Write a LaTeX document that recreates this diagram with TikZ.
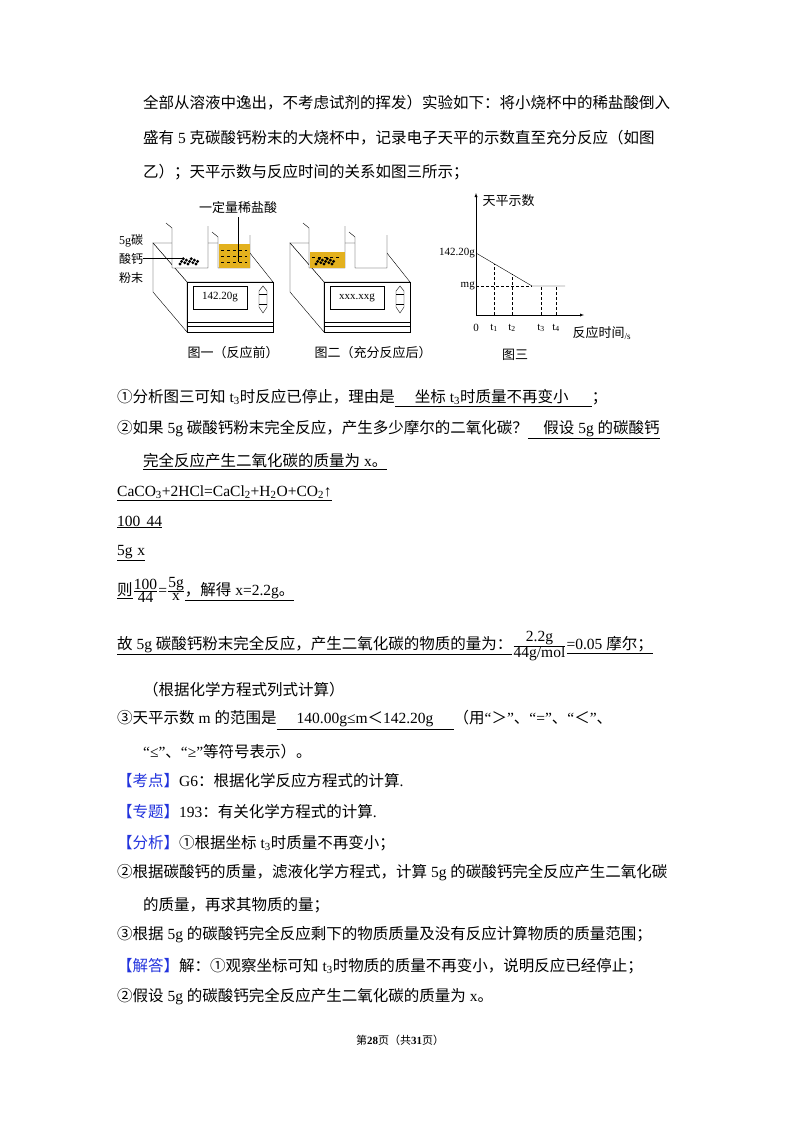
\documentclass[tikz,border=0pt]{standalone}
\usepackage{fontspec}
\setmainfont{Liberation Serif}
\newfontfamily\cjk{Noto Sans CJK SC}
\newfontfamily\latf{Liberation Serif}
\usetikzlibrary{positioning}
% switch fonts between Chinese and Latin characters
\newXeTeXintercharclass\cjkcls
\newcount\cc
\newcommand\cjkrange[2]{\cc=#1 \loop\XeTeXcharclass\cc=\cjkcls\advance\cc1 \ifnum\cc<#2 \repeat}
\cjkrange{"4E00}{"A000}
\cjkrange{"3000}{"3040}
\cjkrange{"FF00}{"FFF0}
\cjkrange{"2460}{"2474}
\XeTeXinterchartoks 0 \cjkcls={\cjk}
\XeTeXinterchartoks 4095 \cjkcls={\cjk}
\XeTeXinterchartoks \cjkcls 0={\latf}
\XeTeXinterchartoks \cjkcls 4095={\latf}
\XeTeXinterchartokenstate=1
\definecolor{acid}{HTML}{E3B11E}
\definecolor{tag}{HTML}{2233DD}
\newcommand\tg[1]{\textcolor{tag}{【#1】}}
\newcommand\sub[1]{\textsubscript{#1}}
% balance with display, shifted by #1
\newcommand\balance[2]{
  \begin{scope}[xshift=#1]
    \draw[fill=white] (153,243) -- (242,243) -- (273,282) -- (187,282) -- cycle;
    \draw[fill=white] (153,243) -- (187,282) -- (187,332) -- (153,292) -- cycle;
    \draw[fill=white] (187,282) rectangle (273,322);
    \draw[fill=white] (187,322) rectangle (273,332);
    \draw (187,326) -- (273,326);
    \draw (193,286) rectangle (247,309);
    \node[font=\fontsize{11}{12}\selectfont] (disp#1) at (220,297.5) {#2};
    \draw (259,291) -- (263,286) -- (267,291) -- (267,307) -- (263,313) -- (259,307) -- cycle;
    \draw (259,294) -- (267,294) (259,304) -- (267,304);
  \end{scope}}
\newcommand\beaker[4]{% x1,x2,top,bottom
  \fill[white] (#1,#3) rectangle (#2,#4);
  \draw (#1-6,#3-3) -- (#1,#3+2) -- (#1,#4) -- (#2,#4) -- (#2,#3);}
\newcommand\powder[2]{% left x, count
  \foreach \i in {0,...,#2}
    \fill ({#1+1.6*\i},{264-1.3*mod(\i*7,5)}) circle (1.6);}
\begin{document}
\begin{tikzpicture}[x=1pt,y=-1pt,
    line/.style={anchor=west,inner sep=0pt,font=\fontsize{15.5}{18}\selectfont},
    figcap/.style={font=\cjk\fontsize{13}{15}\selectfont},
    tick/.style={font=\fontsize{11}{12}\selectfont},
    guide/.style={densely dashed,thin}]
\useasboundingbox[fill=white] (0,0) rectangle (800,1132);

% text above the figure
\node[line] (l1) at (143,103) {全部从溶液中逸出，不考虑试剂的挥发）实验如下：将小烧杯中的稀盐酸倒入};
\node[line] (l2) at (143,138) {盛有 5 克碳酸钙粉末的大烧杯中，记录电子天平的示数直至充分反应（如图};
\node[line] (l3) at (143,172) {乙）；天平示数与反应时间的关系如图三所示；};

% figure one and two
\balance{0}{142.20g}
\balance{137}{xxx.xxg}
\beaker{172}{208}{226}{268}
\powder{180}{11}
\beaker{218}{250}{235}{268}
\fill[acid] (218.5,244) rectangle (249.5,267.5);
\foreach \yy in {250,256,262}
  \draw[dashed,thin] (221,\yy) -- (247,\yy);
\beaker{309}{345}{226}{268}
\fill[acid] (309.5,252) rectangle (344.5,267.5);
\draw[dashed,thin] (312,257) -- (342,257);
\powder{316}{11}
\beaker{355}{387}{235}{268}
\node[figcap,anchor=south] (acidlbl) at (238,217) {一定量稀盐酸};
\draw (acidlbl.south) -- (238,262);
\node[figcap,align=center,inner sep=0pt,font=\fontsize{12}{19}\selectfont] (powder) at (131,259) {5g碳\\酸钙\\粉末};
\draw (143,258) -- (183,258);
\node[figcap] (cap1) at (233,353) {图一（反应前）};
\node[figcap] (cap2) at (373,353) {图二（充分反应后）};

% figure three
\coordinate (o) at (476,315);
\draw[-latex] (o) -- (476,193) node[figcap,anchor=west,xshift=3pt,yshift=-8pt] (yl) {天平示数};
\draw[-latex] (o) -- (584,315);
\draw (476,253) -- (532,286) -- (565,286);
\draw[guide] (476,286) -- (532,286);
\draw[guide] (494,315) -- (494,263.6);
\draw[guide] (512,315) -- (512,274.2);
\draw[guide] (541,315) -- (541,286);
\draw[guide] (556,315) -- (556,286);
\node[tick,anchor=east,inner sep=1pt] (m0) at (476,253) {142.20g};
\node[tick,anchor=east,inner sep=1pt] (m1) at (476,286) {mg};
\foreach \xx/\lb in {476/0,494/t\sub{1},512/t\sub{2},541/t\sub{3},556/t\sub{4}}
  \node[tick] at (\xx,328) {\lb};
\node[figcap,anchor=west] (xl) at (569,333) {反应时间\textsubscript{/s}};
\node[figcap] (cap3) at (515,355) {图三};

% solution text
\node[line] (a1) at (117,398) {①分析图三可知 t\sub{3}时反应已停止，理由是\underline{\hspace{1.3em}坐标 t\sub{3}时质量不再变小\hspace{1.5em}}；};
\node[line] (a2) at (117,430) {②如果 5g 碳酸钙粉末完全反应，产生多少摩尔的二氧化碳？\underline{\hspace{1em}假设 5g 的碳酸钙}};
\node[line] (a3) at (143,462) {\underline{完全反应产生二氧化碳的质量为 x。}};
\node[line] (eq) at (117,493) {\underline{CaCO\sub{3}+2HCl=CaCl\sub{2}+H\sub{2}O+CO\sub{2}↑}};
\node[line] (r1) at (117,522) {\underline{100\hspace{0.4em}44}};
\node[line] (r2) at (117,553) {\underline{5g\hspace{0.3em}x}};
\node[line] (r3) at (117,590) {\underline{则}$\frac{\mbox{100}}{\mbox{44}}$=$\frac{\mbox{5g}}{\mbox{x}}$\underline{，解得 x=2.2g。}};
\node[line] (r4) at (117,646) {\underline{故 5g 碳酸钙粉末完全反应，产生二氧化碳的物质的量为：}$\frac{\mbox{2.2g}}{\mbox{44g/mol}}$\underline{=0.05 摩尔；}};
\node[line] (r5) at (143,690) {（根据化学方程式列式计算）};
\node[line] (a4) at (117,720) {③天平示数 m 的范围是\underline{\hspace{1.3em}140.00g≤m＜142.20g\hspace{1.3em}}（用“＞”、“=”、“＜”、};
\node[line] (a5) at (143,752) {“≤”、“≥”等符号表示）。};
\node[line] (k1) at (117,781) {\tg{考点}G6：根据化学反应方程式的计算.};
\node[line] (k2) at (117,812) {\tg{专题}193：有关化学方程式的计算.};
\node[line] (k3) at (117,843) {\tg{分析}①根据坐标 t\sub{3}时质量不再变小；};
\node[line] (k4) at (117,873) {②根据碳酸钙的质量，滤液化学方程式，计算 5g 的碳酸钙完全反应产生二氧化碳};
\node[line] (k5) at (143,905) {的质量，再求其物质的量；};
\node[line] (k6) at (117,935) {③根据 5g 的碳酸钙完全反应剩下的物质质量及没有反应计算物质的质量范围；};
\node[line] (k7) at (117,966) {\tg{解答}解：①观察坐标可知 t\sub{3}时物质的质量不再变小，说明反应已经停止；};
\node[line] (k8) at (117,997) {②假设 5g 的碳酸钙完全反应产生二氧化碳的质量为 x。};

% footer
\node[font=\fontsize{11}{12}\selectfont] (foot) at (400,1040) {第\textbf{28}页（共\textbf{31}页）};
\end{tikzpicture}
\end{document}
